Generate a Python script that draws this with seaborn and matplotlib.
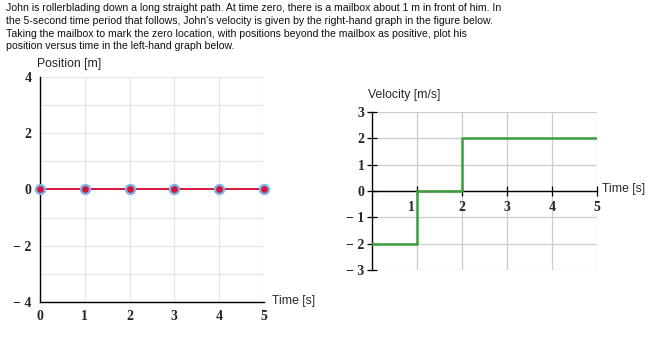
import numpy as np
import pandas as pd
import seaborn as sns
import matplotlib.pyplot as plt
import matplotlib.transforms as mtransforms
from matplotlib.ticker import FixedLocator, FixedFormatter

# position graph (left): points placed on the grid
pos_time = [0, 1, 2, 3, 4, 5]
pos_m = [0, 0, 0, 0, 0, 0]
pos_yticks = [-4, -3, -2, -1, 0, 1, 2, 3, 4]
pos_ylabels = ["\u2212 4", "", "\u2212 2", "", "0", "", "2", "", "4"]

# velocity graph (right): step function
vel_time = [0, 1, 2, 5]
vel_ms = [-2, 0, 2, 2]
vel_yticks = [-3, -2, -1, 0, 1, 2, 3]
vel_ylabels = ["\u2212 3", "\u2212 2", "\u2212 1", "0", "1", "2", "3"]
vel_xticks = [1, 2, 3, 4, 5]

intro = ("John is rollerblading down a long straight path. At time zero, there is a mailbox about 1 m in front of him. In\n"
         "the 5-second time period that follows, John's velocity is given by the right-hand graph in the figure below.\n"
         "Taking the mailbox to mark the zero location, with positions beyond the mailbox as positive, plot his\n"
         "position versus time in the left-hand graph below.")

sns.set_theme(style="white")
plt.rcParams['font.family'] = ['Liberation Sans', 'DejaVu Sans']

W, H = 651, 356
fig = plt.figure(figsize=(W / 100, H / 100), dpi=100)

def px_axes(x0, x1, ytop, ybot):
    return fig.add_axes([x0 / W, 1 - ybot / H, (x1 - x0) / W, (ybot - ytop) / H])

tick_font = dict(family='Liberation Serif', weight='bold', size=10)
lab_size = 8.8

fig.text(6 / W, 1 - 3 / H, intro, ha='left', va='top', fontsize=7.58, linespacing=1.35, color='#111111')

# ---- left: position ----
ax1 = px_axes(40, 264, 77, 302)
df_pos = pd.DataFrame({"t": pos_time, "x": pos_m})
sns.lineplot(data=df_pos, x="t", y="x", ax=ax1, color='#d4163c', lw=1.4,
             marker='o', markersize=6.5, markerfacecolor='#d4163c',
             markeredgecolor='#7fb3e6', markeredgewidth=1.6, clip_on=False, zorder=5)
ax1.set_xlim(0, 5)
ax1.set_ylim(-4, 4)
ax1.set_xticks(pos_time)
ax1.yaxis.set_major_locator(FixedLocator(pos_yticks))
ax1.yaxis.set_major_formatter(FixedFormatter(pos_ylabels))
ax1.grid(True, color='#e6e6e6', lw=0.9)
for s in ['top', 'right']:
    ax1.spines[s].set_visible(False)
for s in ['left', 'bottom']:
    ax1.spines[s].set_color('black')
    ax1.spines[s].set_linewidth(1.0)
ax1.tick_params(length=0, pad=6)
for lab in ax1.get_xticklabels() + ax1.get_yticklabels():
    lab.set(**tick_font)
ax1.set_xlabel("")
ax1.set_ylabel("")
fig.text(37 / W, 1 - 67 / H, "Position [m]", fontsize=lab_size, ha='left', va='baseline')
fig.text(272 / W, 1 - 301 / H, "Time [s]", fontsize=lab_size, ha='left', va='center')

# ---- right: velocity ----
ax2 = px_axes(372, 597, 112, 270)
df_vel = pd.DataFrame({"t": vel_time, "v": vel_ms})
sns.lineplot(data=df_vel, x="t", y="v", ax=ax2, color='#3c9e3c', lw=1.8,
             drawstyle='steps-post', zorder=5)
ax2.set_xlim(0, 5)
ax2.set_ylim(-3, 3)
ax2.set_xticks(vel_xticks)
ax2.yaxis.set_major_locator(FixedLocator(vel_yticks))
ax2.yaxis.set_major_formatter(FixedFormatter(vel_ylabels))
ax2.grid(True, color='#cccccc', lw=0.9)
ax2.spines['top'].set_visible(False)
ax2.spines['right'].set_visible(False)
ax2.spines['bottom'].set_position(('data', 0))
for s in ['left', 'bottom']:
    ax2.spines[s].set_color('black')
    ax2.spines[s].set_linewidth(1.0)
ax2.tick_params(bottom=True, left=True, direction='inout', length=7, width=0.9,
                color='black', pad=2)
ax2.tick_params(axis='x', pad=4)
for lab in ax2.get_xticklabels() + ax2.get_yticklabels():
    lab.set(**tick_font)
# nudge the "1" label left, clear of the step
first = ax2.get_xticklabels()[0]
first.set_transform(first.get_transform() + mtransforms.ScaledTranslation(-6 / 100, 0, fig.dpi_scale_trans))
ax2.set_xlabel("")
ax2.set_ylabel("")
fig.text(368 / W, 1 - 98 / H, "Velocity [m/s]", fontsize=lab_size, ha='left', va='baseline')
fig.text(602 / W, 1 - 189 / H, "Time [s]", fontsize=lab_size, ha='left', va='center')

fig.savefig("out.png", dpi=100)
